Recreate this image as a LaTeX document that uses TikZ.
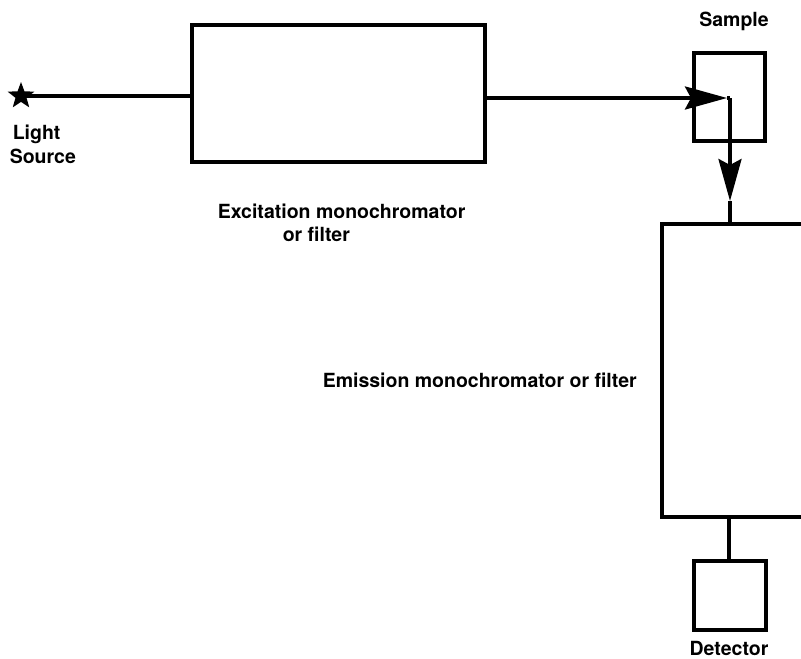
\documentclass[tikz,border=0pt]{standalone}
\usepackage{fontspec}
\setmainfont{TeX Gyre Heros}
\usetikzlibrary{shapes.geometric,arrows.meta}
\begin{document}
\begin{tikzpicture}[x=1pt,y=-1pt,
  line width=3.5pt,
  lbl/.style={font=\fontsize{19.5}{22}\selectfont\bfseries, inner sep=0pt},
  boxc/.style={draw, line width=3.5pt, inner sep=0pt},
  head/.style={-{Stealth[length=42pt,width=23pt,inset=6pt]}}]
\useasboundingbox (0,0) rectangle (801,659);
% star light source
\node[star, star points=5, star point ratio=2.4, minimum size=28pt, fill=black, inner sep=0pt] (src) at (21,96) {};
% excitation box
\node[boxc, minimum width=293pt, minimum height=137pt] (exc) at (338.5,93.5) {};
% sample box
\node[boxc, minimum width=71pt, minimum height=88pt] (smp) at (729.5,97) {};
% detector box
\node[boxc, minimum width=72pt, minimum height=69pt] (det) at (730,595.5) {};
% emission box (open to right edge)
\coordinate (emtr) at (804,224);
\coordinate (emtl) at (662,224);
\coordinate (embl) at (662,517);
\coordinate (embr) at (804,517);
\coordinate (emin) at (730,224);
\coordinate (emout) at (729,517);
\draw[line cap=rect] (emtr) -- (emtl) -- (embl) -- (embr);
% connectors
\coordinate (corner) at (730,98);
\coordinate (mid) at (730,201);
\draw (src.center) -- (exc.west |- src.center);
\draw[head] (exc.east |- corner) -- (727,98);
\draw (727,98) -- (corner);
\draw[head] (corner) -- (mid);
\draw (mid) -- (emin);
\draw (emout) -- (det.north -| emout);
% labels
\node[lbl, anchor=west] (l1) at (11,134.5) {Light};
\node[lbl, anchor=west] (l2) at (8,156.5) {Source};
\node[lbl] (ls) at (734,21) {Sample};
\node[lbl, anchor=west] (le1) at (216,211) {Excitation monochromator};
\node[lbl, anchor=west] (le2) at (281,234) {or filter};
\node[lbl, anchor=west] (lem) at (321,380) {Emission monochromator or filter};
\node[lbl] (ld) at (729,648) {Detector};
\end{tikzpicture}
\end{document}
